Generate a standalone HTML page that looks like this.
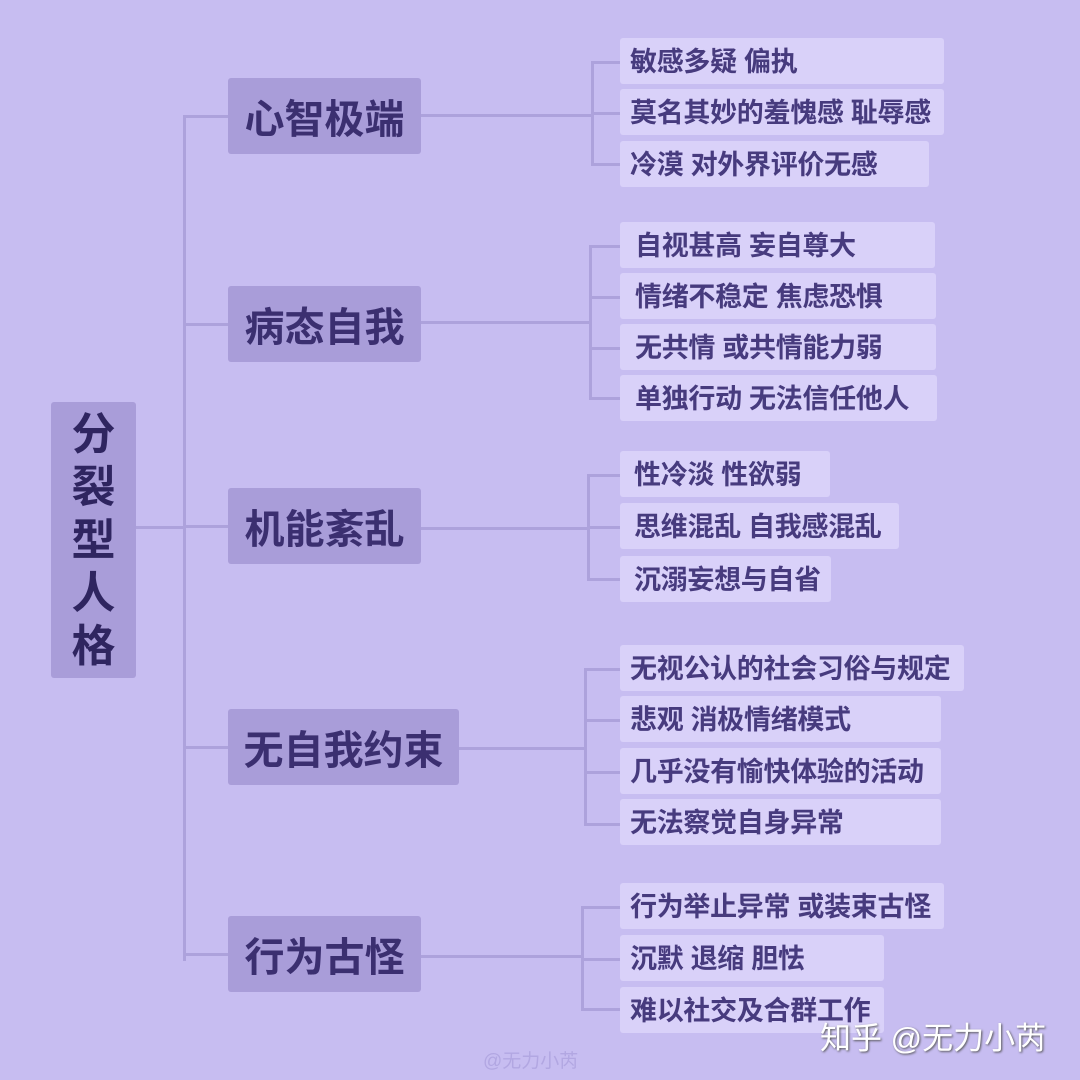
<!DOCTYPE html><html><head><meta charset="utf-8"><style>
body{margin:0;width:1080px;height:1080px;background:#c7bdf1;position:relative;overflow:hidden;font-family:"Liberation Sans","Noto Sans CJK SC",sans-serif}
.l{position:absolute;background:#ada2dc}
.m{position:absolute;background:#a99dd9;color:#3b2f70;font-weight:700;font-size:40px;border-radius:3px;display:flex;align-items:center;justify-content:center;height:76px;left:228px}
.s{position:absolute;background:#d9d1f9;color:#473b7e;font-weight:700;font-size:27px;border-radius:3px;height:46px;left:620px;line-height:48px;padding-left:10px;box-sizing:border-box;white-space:nowrap;letter-spacing:-0.3px}
</style></head><body>
<div class="l" style="left:136px;top:526px;width:48px;height:3px"></div>
<div class="l" style="left:183px;top:115px;width:3px;height:846px"></div>
<div class="l" style="left:183px;top:115px;width:45px;height:3px"></div>
<div class="l" style="left:183px;top:323px;width:45px;height:3px"></div>
<div class="l" style="left:183px;top:525px;width:45px;height:3px"></div>
<div class="l" style="left:183px;top:746px;width:45px;height:3px"></div>
<div class="l" style="left:183px;top:953px;width:45px;height:3px"></div>
<div style="position:absolute;left:51px;top:402px;width:85px;height:276px;background:#a99dd9;border-radius:3px;color:#2f2560;font-weight:700;font-size:44px;line-height:53px;text-align:center;padding-top:6px;box-sizing:border-box">分<br>裂<br>型<br>人<br>格</div>
<div class="m" style="top:78px;width:193px">心智极端</div>
<div class="m" style="top:286px;width:193px">病态自我</div>
<div class="m" style="top:488px;width:193px">机能紊乱</div>
<div class="m" style="top:709px;width:231px">无自我约束</div>
<div class="m" style="top:916px;width:193px">行为古怪</div>
<div class="l" style="left:421px;top:114px;width:171px;height:3px"></div>
<div class="l" style="left:591px;top:61px;width:3px;height:105px"></div>
<div class="l" style="left:591px;top:61px;width:29px;height:3px"></div>
<div class="l" style="left:591px;top:112px;width:29px;height:3px"></div>
<div class="l" style="left:591px;top:163px;width:29px;height:3px"></div>

<div class="l" style="left:421px;top:321px;width:169px;height:3px"></div>
<div class="l" style="left:589px;top:245px;width:3px;height:154px"></div>
<div class="l" style="left:589px;top:245px;width:31px;height:3px"></div>
<div class="l" style="left:589px;top:296px;width:31px;height:3px"></div>
<div class="l" style="left:589px;top:347px;width:31px;height:3px"></div>
<div class="l" style="left:589px;top:397px;width:31px;height:3px"></div>

<div class="l" style="left:421px;top:527px;width:167px;height:3px"></div>
<div class="l" style="left:587px;top:474px;width:3px;height:106px"></div>
<div class="l" style="left:587px;top:474px;width:33px;height:3px"></div>
<div class="l" style="left:587px;top:526px;width:33px;height:3px"></div>
<div class="l" style="left:587px;top:578px;width:33px;height:3px"></div>

<div class="l" style="left:459px;top:747px;width:126px;height:3px"></div>
<div class="l" style="left:584px;top:668px;width:3px;height:157px"></div>
<div class="l" style="left:584px;top:668px;width:36px;height:3px"></div>
<div class="l" style="left:584px;top:719px;width:36px;height:3px"></div>
<div class="l" style="left:584px;top:771px;width:36px;height:3px"></div>
<div class="l" style="left:584px;top:823px;width:36px;height:3px"></div>

<div class="l" style="left:421px;top:955px;width:162px;height:3px"></div>
<div class="l" style="left:581px;top:906px;width:3px;height:104px"></div>
<div class="l" style="left:581px;top:906px;width:39px;height:3px"></div>
<div class="l" style="left:581px;top:958px;width:39px;height:3px"></div>
<div class="l" style="left:581px;top:1008px;width:39px;height:3px"></div>

<div class="s" style="top:38px;width:324px">敏感多疑 偏执</div>
<div class="s" style="top:89px;width:324px">莫名其妙的羞愧感 耻辱感</div>
<div class="s" style="top:141px;width:309px">冷漠 对外界评价无感</div>
<div class="s" style="top:222px;width:315px;padding-left:15px">自视甚高 妄自尊大</div>
<div class="s" style="top:273px;width:316px;padding-left:15px">情绪不稳定 焦虑恐惧</div>
<div class="s" style="top:324px;width:316px;padding-left:15px">无共情 或共情能力弱</div>
<div class="s" style="top:375px;width:317px;padding-left:15px">单独行动 无法信任他人</div>
<div class="s" style="top:451px;width:210px;padding-left:14px">性冷淡 性欲弱</div>
<div class="s" style="top:503px;width:279px;padding-left:14px">思维混乱 自我感混乱</div>
<div class="s" style="top:556px;width:211px;padding-left:14px">沉溺妄想与自省</div>
<div class="s" style="top:645px;width:344px">无视公认的社会习俗与规定</div>
<div class="s" style="top:696px;width:321px">悲观 消极情绪模式</div>
<div class="s" style="top:748px;width:321px">几乎没有愉快体验的活动</div>
<div class="s" style="top:799px;width:321px">无法察觉自身异常</div>
<div class="s" style="top:883px;width:324px">行为举止异常 或装束古怪</div>
<div class="s" style="top:935px;width:264px">沉默 退缩 胆怯</div>
<div class="s" style="top:987px;width:264px">难以社交及合群工作</div>
<div style="position:absolute;left:483px;top:1046px;font-size:19px;color:#b2a7e2">@无力小芮</div>
<div style="position:absolute;left:820px;top:1013px;font-size:31px;color:#fff;text-shadow:1px 1px 2px #555">知乎 @无力小芮</div>
</body></html>
